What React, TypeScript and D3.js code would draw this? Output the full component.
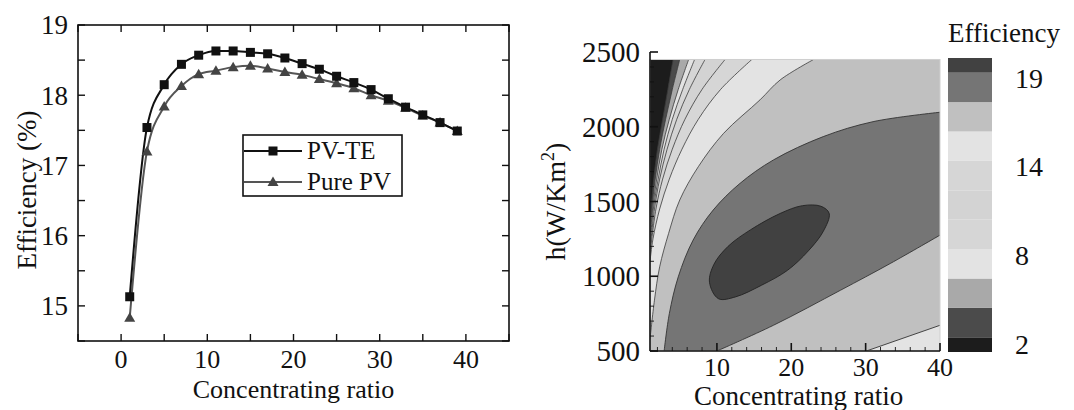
import React from 'react';
import * as d3 from 'd3';

// left panel: efficiency vs concentrating ratio
const ratio = [1, 3, 5, 7, 9, 11, 13, 15, 17, 19, 21, 23, 25, 27, 29, 31, 33, 35, 37, 39];
const pvTE = [15.13, 17.54, 18.15, 18.44, 18.57, 18.63, 18.63, 18.61, 18.59, 18.53, 18.45, 18.37, 18.27, 18.18, 18.08, 17.95, 17.83, 17.72, 17.61, 17.49];
const purePV = [14.83, 17.2, 17.84, 18.13, 18.3, 18.35, 18.4, 18.42, 18.38, 18.33, 18.29, 18.23, 18.17, 18.1, 18.0, 17.92, 17.82, 17.71, 17.61, 17.49];
const leftXTicks = [0, 10, 20, 30, 40];
const leftYTicks = [15, 16, 17, 18, 19];

// right panel: contour lines, [ratio, h]
const lineL1 = [[4.1, 2450], [3.4, 2250], [2.7, 2050], [2.0, 1850], [1.5, 1650], [1.15, 1450], [1, 1350]];
const lineL2 = [[5.0, 2450], [4.0, 2250], [3.1, 2050], [2.3, 1850], [1.7, 1650], [1.25, 1450], [1, 1300]];
const lineL3 = [[6.2, 2450], [4.8, 2250], [3.6, 2050], [2.6, 1850], [1.9, 1650], [1.35, 1450], [1, 1260]];
const lineL4 = [[7.0, 2450], [5.4, 2250], [4.0, 2050], [2.9, 1850], [2.1, 1650], [1.45, 1450], [1, 1220]];
const lineL5 = [[8.4, 2450], [6.3, 2250], [4.6, 2050], [3.3, 1850], [2.3, 1650], [1.6, 1450], [1, 1180]];
const lineL6 = [[11.1, 2450], [8.0, 2250], [5.7, 2050], [4.0, 1850], [2.7, 1650], [1.8, 1450], [1, 1150]];
const lineL7 = [[14.7, 2450], [10.5, 2250], [7.5, 2050], [5.3, 1850], [3.6, 1650], [2.3, 1450], [1.4, 1250], [1, 1100]];
const lineL8 = [[23.0, 2450], [18.5, 2313], [15.8, 2180], [10.9, 1956], [7.5, 1733], [5.0, 1510], [3.5, 1286], [2.3, 1063], [1.6, 840], [1, 580]];
const upperB = [[40, 2097], [31.0, 2034], [24.3, 1934], [17.6, 1778], [13.1, 1621], [9.5, 1443], [6.8, 1242], [4.8, 996], [3.6, 750], [2.9, 500]];
const lowerC = [[10.0, 500], [17.6, 672], [26.6, 906], [33.3, 1085], [40, 1275]];
const cornerLine = [[30.1, 500], [40, 672]];
const peak = [[9.0, 960], [9.6, 1080], [11.5, 1200], [14.5, 1310], [18.5, 1420], [21.5, 1472], [24.0, 1468], [25.1, 1420], [24.3, 1300], [22.3, 1170], [19.5, 1040], [16.0, 940], [12.5, 862], [10.2, 850]];
const rightXTicks = [10, 20, 30, 40];
const rightYTicks = [500, 1000, 1500, 2000, 2500];

// colour bar, lowest level first
const bandColors = ['#1c1c1c', '#4b4b4b', '#a9a9a9', '#e3e3e3', '#d6d6d6', '#d3d3d3', '#d6d6d6', '#e3e3e3', '#c0c0c0', '#757575', '#414141'];
const barLabels = ['2', '8', '14', '19'];

const font = '"Liberation Serif", "Times New Roman", serif';

export default function App() {
  // left panel scales
  const x = d3.scaleLinear().domain([-5, 45]).range([78, 509]);
  const y = d3.scaleLinear().domain([14.5, 19]).range([341, 25]);
  const curve = d3.line<number>().x((_, i) => x(ratio[i])).y(d => y(d)).curve(d3.curveMonotoneX);

  // right panel scales
  const x2 = d3.scaleLinear().domain([1, 40]).range([650, 940]);
  const y2 = d3.scaleLinear().domain([500, 2500]).range([351, 52]);
  const cl = d3.line<number[]>().x(d => x2(d[0])).y(d => y2(d[1])).curve(d3.curveCatmullRom.alpha(0.5));
  const straight = (pts: number[][]) => pts.map(p => `L${x2(p[0])},${y2(p[1])}`).join('');
  const rightOf = (pts: number[][]) => cl(pts) + straight([[1, 500], [40, 500], [40, 2450]]) + 'Z';
  const ring = d3.line<number[]>().x(d => x2(d[0])).y(d => y2(d[1])).curve(d3.curveCatmullRomClosed.alpha(0.5));

  const fan = [lineL1, lineL2, lineL3, lineL4, lineL5, lineL6, lineL7, lineL8];
  const bandPath = cl(upperB) + 'L' + (cl(lowerC) as string).slice(1) + 'Z';
  const cornerPath = cl(cornerLine) + straight([[40, 500]]) + 'Z';

  // colour bar scale in band units
  const cb = d3.scaleLinear().domain([0, 10]).range([352, 58]);
  const cbLab = d3.scalePoint<string>().domain(barLabels).range([344, 78]);

  const tick = 7;

  return (
    <svg width={1074} height={410} style={{ position: 'absolute', left: 0, top: 0, background: '#fff' }} fontFamily={font}>
      {/* ---------- left panel ---------- */}
      <g>
        <rect x={x(-5)} y={y(19)} width={x(45) - x(-5)} height={y(14.5) - y(19)} fill="none" stroke="#111" strokeWidth={1.6} />
        {d3.range(-5, 45.01, 5).map(v => (
          <g key={'lx' + v} stroke="#111" strokeWidth={1.4}>
            <line x1={x(v)} x2={x(v)} y1={y(14.5)} y2={y(14.5) - tick} />
            <line x1={x(v)} x2={x(v)} y1={y(19)} y2={y(19) + tick} />
          </g>
        ))}
        {d3.range(14.5, 19.01, 0.5).map(v => (
          <g key={'ly' + v} stroke="#111" strokeWidth={1.4}>
            <line x1={x(-5)} x2={x(-5) + tick} y1={y(v)} y2={y(v)} />
            <line x1={x(45)} x2={x(45) - tick} y1={y(v)} y2={y(v)} />
          </g>
        ))}
        {leftXTicks.map(v => (
          <text key={'lxt' + v} x={x(v)} y={368} textAnchor="middle" fontSize={26} fill="#111">{v}</text>
        ))}
        {leftYTicks.map(v => (
          <text key={'lyt' + v} x={68} y={y(v)} dy="0.35em" textAnchor="end" fontSize={27} fill="#111">{v}</text>
        ))}
        <text x={x(20)} y={398} textAnchor="middle" fontSize={26} fill="#111">Concentrating ratio</text>
        <text transform={`translate(36,${y(16.65)}) rotate(-90)`} textAnchor="middle" fontSize={27} fill="#111">Efficiency (%)</text>

        <path d={curve(purePV) as string} fill="none" stroke="#555" strokeWidth={2} />
        <path d={curve(pvTE) as string} fill="none" stroke="#111" strokeWidth={2} />
        {purePV.map((v, i) => (
          <path key={'pp' + i} d={`M${x(ratio[i])},${y(v) - 5.5}l5.5,9.5h-11z`} fill="#444" />
        ))}
        {pvTE.map((v, i) => (
          <rect key={'pt' + i} x={x(ratio[i]) - 4.5} y={y(v) - 4.5} width={9} height={9} fill="#111" />
        ))}

        {/* legend */}
        <rect x={243} y={135} width={159} height={61} fill="#fff" stroke="#111" strokeWidth={1.6} />
        <line x1={244} x2={302} y1={151} y2={151} stroke="#111" strokeWidth={2} />
        <rect x={268.5} y={146.5} width={9} height={9} fill="#111" />
        <text x={307} y={159} fontSize={25} fill="#111">PV-TE</text>
        <line x1={244} x2={302} y1={182} y2={182} stroke="#555" strokeWidth={2} />
        <path d="M273,176.5l5.5,9.5h-11z" fill="#444" />
        <text x={307} y={190} fontSize={25} fill="#111">Pure PV</text>
      </g>

      {/* ---------- right panel ---------- */}
      <defs>
        <clipPath id="plotClip">
          <rect x={x2(1)} y={y2(2450)} width={x2(40) - x2(1)} height={y2(500) - y2(2450)} />
        </clipPath>
      </defs>
      <g clipPath="url(#plotClip)">
        <rect x={x2(1)} y={y2(2450)} width={x2(40) - x2(1)} height={y2(500) - y2(2450)} fill={bandColors[0]} />
        {fan.map((pts, i) => (
          <path key={'fan' + i} d={rightOf(pts)} fill={bandColors[i + 1]} />
        ))}
        <path d={cornerPath} fill={bandColors[7]} />
        <path d={bandPath} fill={bandColors[9]} />
        <path d={ring(peak) as string} fill={bandColors[10]} />
        {fan.map((pts, i) => (
          <path key={'fl' + i} d={cl(pts) as string} fill="none" stroke="#3a3a3a" strokeWidth={0.8} />
        ))}
        <path d={cl(upperB) as string} fill="none" stroke="#333" strokeWidth={0.9} />
        <path d={cl(lowerC) as string} fill="none" stroke="#333" strokeWidth={0.9} />
        <path d={cl(cornerLine) as string} fill="none" stroke="#333" strokeWidth={0.9} />
        <path d={ring(peak) as string} fill="none" stroke="#222" strokeWidth={0.9} />
      </g>
      <rect x={x2(1)} y={y2(2450)} width={x2(40) - x2(1)} height={y2(500) - y2(2450)} fill="none" stroke="#cfcfcf" strokeWidth={1} />
      {/* axes */}
      <g stroke="#111">
        <line x1={x2(1)} x2={x2(1)} y1={y2(2500)} y2={y2(500)} strokeWidth={1.6} />
        <line x1={x2(1)} x2={x2(40)} y1={y2(500)} y2={y2(500)} strokeWidth={1.6} />
        {d3.range(2, 40.01, 2).map(v => (
          <line key={'rxm' + v} x1={x2(v)} x2={x2(v)} y1={y2(500)} y2={y2(500) - (v % 10 === 0 ? 8 : 4)} strokeWidth={v % 10 === 0 ? 1.6 : 0.9} />
        ))}
        {d3.range(500, 2500.1, 100).map(v => (
          <line key={'rym' + v} x1={x2(1)} x2={x2(1) + (v % 500 === 0 ? 8 : 4)} y1={y2(v)} y2={y2(v)} strokeWidth={v % 500 === 0 ? 1.6 : 0.9} />
        ))}
      </g>
      {rightXTicks.map(v => (
        <text key={'rxt' + v} x={x2(v)} y={376} textAnchor="middle" fontSize={26} fill="#111">{v}</text>
      ))}
      {rightYTicks.map(v => (
        <text key={'ryt' + v} x={640} y={y2(v)} dy="0.35em" textAnchor="end" fontSize={29} fill="#111">{v}</text>
      ))}
      <text x={x2(21)} y={405} textAnchor="middle" fontSize={27} fill="#111">Concentrating ratio</text>
      <text transform={`translate(565,${y2(1500)}) rotate(-90)`} textAnchor="middle" fontSize={28} fill="#111">
        h(W/Km<tspan dy={-11} fontSize={18}>2</tspan><tspan dy={11}>)</tspan>
      </text>

      {/* colour bar */}
      {bandColors.map((c, i) => {
        const lo = Math.max(0, i - 0.5);
        const hi = Math.min(10, i + 0.5);
        return <rect key={'cb' + i} x={948} y={cb(hi)} width={44} height={cb(lo) - cb(hi)} fill={c} />;
      })}
      {barLabels.map(l => (
        <text key={'cbl' + l} x={1015} y={cbLab(l)} dy="0.35em" fontSize={28} fill="#111">{l}</text>
      ))}
      <text x={948} y={42} fontSize={27} fill="#111">Efficiency</text>
    </svg>
  );
}
